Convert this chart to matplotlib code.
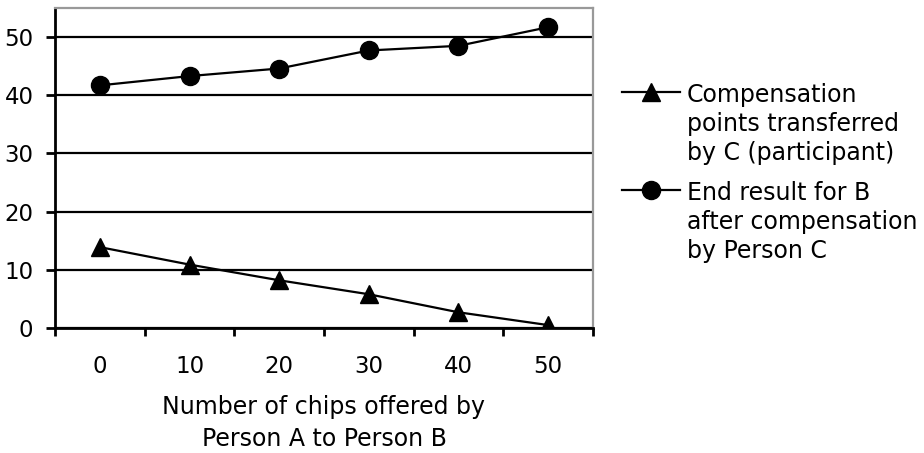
import matplotlib.pyplot as plt

plt.rcParams['font.family'] = 'DejaVu Sans'
plt.rcParams['font.size'] = 17

chips = [0, 10, 20, 30, 40, 50]
compensation = [13.9, 10.9, 8.2, 5.8, 2.7, 0.5]
end_result = [41.7, 43.3, 44.6, 47.7, 48.5, 51.7]

fig = plt.figure(figsize=(9.24, 4.53), dpi=100)
ax = fig.add_axes([55 / 924, 1 - 328 / 453, 538 / 924, 320 / 453])

pos = range(len(chips))
ax.plot(pos, compensation, color='black', lw=1.6, marker='^', markersize=12.5,
        label='Compensation\npoints transferred\nby C (participant)')
ax.plot(pos, end_result, color='black', lw=1.6, marker='o', markersize=13,
        label='End result for B\nafter compensation\nby Person C')

ax.set_xlim(-0.5, len(chips) - 0.5)
ax.set_ylim(0, 55)
ax.set_yticks(range(0, 51, 10))
ax.set_xticks(pos)
ax.set_xticklabels([str(c) for c in chips])
ax.set_xticks([p - 0.5 for p in range(len(chips) + 1)], minor=True)
ax.tick_params(axis='both', which='major', labelsize=16.5)
ax.tick_params(axis='x', which='major', length=0, pad=19.5)
ax.tick_params(axis='x', which='minor', length=6, width=2, direction='out')
ax.tick_params(axis='y', length=6.5, width=2, direction='out', pad=9)
ax.yaxis.grid(True, color='black', lw=1.6)
ax.set_axisbelow(True)

for side in ['left', 'bottom']:
    ax.spines[side].set_linewidth(2)
for side in ['top', 'right']:
    ax.spines[side].set_color('#999999')
    ax.spines[side].set_linewidth(1.6)

ax.set_xlabel('Number of chips offered by\nPerson A to Person B', labelpad=12, linespacing=1.43)

leg = fig.legend(loc='upper left', bbox_to_anchor=(622 / 924, 1 - 83 / 453),
                 bbox_transform=fig.transFigure, frameon=False,
                 handlelength=2.45, handleheight=1.0, handletextpad=0.3,
                 labelspacing=0.65, borderpad=0, borderaxespad=0)
for t in leg.get_texts():
    t.set_linespacing(1.27)
# put the handle level with the first line of each label
for col in leg._legend_handle_box.get_children():
    for row in col.get_children():
        row.align = 'top'

fig.savefig('out.png', dpi=100)
